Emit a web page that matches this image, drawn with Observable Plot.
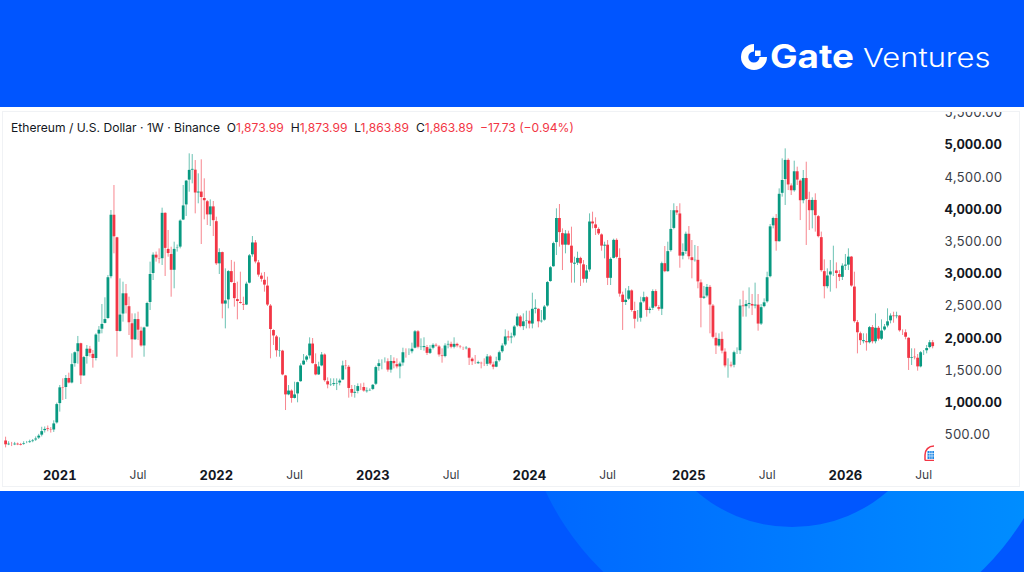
<!DOCTYPE html>
<html><head><meta charset="utf-8">
<script src="https://cdn.jsdelivr.net/npm/d3@7"></script>
<script src="https://cdn.jsdelivr.net/npm/@observablehq/plot@0.6"></script>
<style>
html,body{margin:0;padding:0;width:1024px;height:572px;overflow:hidden;background:#fff;font-family:Inter,"Noto Sans",sans-serif}
#header{position:absolute;left:0;top:0;width:1024px;height:107px;background:#0055ff}
#footer{position:absolute;left:0;top:491px;width:1024px;height:81px;overflow:hidden;background:#0057ff}
#big{position:absolute;left:520px;top:-387px;width:544px;height:544px;border-radius:50%;background:linear-gradient(90deg,#0066ff,#0090ff)}
#small{position:absolute;left:646px;top:-256px;width:292px;height:292px;border-radius:50%;background:#0057ff}
#panel{position:absolute;left:2px;top:111px;width:1018px;height:376px;border:1px solid #f0f2f5;box-sizing:border-box}
#chart{position:absolute;left:0;top:112px}
#legend{position:absolute;left:11px;top:120px;font-size:12.1px;line-height:16px;color:#131722;white-space:pre}
#legend b{font-weight:400;color:#f23645}
.logo{position:absolute;color:#fff;white-space:pre;transform-origin:left center}
#gate{left:770px;top:37px;font-size:32px;line-height:40px;font-weight:700;transform:scaleX(1.15)}
#ventures{left:863px;top:40px;font-size:26px;line-height:36px;font-weight:300;transform:scaleX(1.19)}
</style></head><body>
<div id="header"></div>
<svg style="position:absolute;left:740px;top:43px" width="28" height="28" viewBox="0 0 28 28">
<path d="M14 1A13 13 0 1 0 27 14H19.5A5.6 5.6 0 1 1 14 8.4Z" fill="#fff"/><path d="M15 7.5h5.6V13H15z" fill="#fff"/></svg>
<div class="logo" id="gate">Gate</div><div class="logo" id="ventures">Ventures</div>
<div id="footer"><div id="big"></div><div id="small"></div></div>
<div id="panel"></div>
<div id="chart"></div>
<div id="legend">Ethereum / U.S. Dollar · 1W · Binance  O<b>1,873.99</b>  H<b>1,873.99</b>  L<b>1,863.89</b>  C<b>1,863.89</b>  <b>−17.73 (−0.94%)</b></div>
<svg style="position:absolute;left:923px;top:445px" width="11" height="16" viewBox="0 0 11 16">
<path d="M11 1C5.5 1 2 5 2 10V15.500M2 15.500H11" fill="none" stroke="#f23645" stroke-width="1.5"/><rect x="4.500" y="6" width="6.500" height="8" fill="#1e88e5"/><path d="M4.500 8.500h6.500M4.500 11h6.500M6.800 6v8M9 6v8" stroke="#fff" stroke-width=".6"/></svg>
<script>
const firstWeek = "2020-08-31";
const firstOpen = 415;
const closes = [340,365,350,355,350,345,370,385,390,415,445,490,560,595,590,570,680,980,1240,1230,1385,1300,1600,1785,1925,1410,1710,1840,1760,1680,2060,2135,2225,2300,2950,3920,3570,2100,2370,2700,2500,2235,1970,2300,2120,1875,2170,2550,3000,3300,3240,3230,3950,3390,3310,3050,3390,3410,3830,4065,4450,4617,4620,4250,4280,4180,4130,3910,4050,3820,3150,3340,2525,2590,3045,2860,2610,2565,2535,2510,2850,3290,3490,3180,2975,2910,2820,2510,2130,2030,1800,1810,1425,1115,1190,1060,1130,1320,1580,1655,1720,1920,1600,1425,1565,1750,1335,1270,1290,1290,1300,1345,
1580,1560,1215,1140,1170,1260,1245,1175,1180,1200,1280,1555,1615,1630,1645,1500,1650,1600,1550,1610,1785,1770,1785,1840,2110,1855,1865,1865,1760,1840,1900,1875,1735,1710,1890,1915,1855,1915,1875,1855,1840,1848,1685,1630,1615,1615,1605,1590,1720,1595,1545,1645,1785,1890,2030,2000,2030,2185,2340,2175,2265,2275,2215,2460,2460,2250,2275,2495,2875,3105,3480,3870,3635,3440,3630,3440,3160,3160,3250,3150,2910,3055,3815,3770,3700,3615,3425,3455,2925,3235,3530,3250,2680,2550,2600,2745,2425,2290,2305,2560,2640,2425,2460,2735,2485,2445,
3168,3028,3355,3700,3990,3940,3270,3340,3625,3260,3200,3220,2870,2615,2650,2800,2510,2009,1875,1992,1795,1565,1580,1575,1785,1800,2510,2485,2535,2535,2495,2525,2215,2485,2560,2950,3740,3870,3494,4245,4460,4772,4375,4285,4595,4450,4130,4490,4150,3975,4150,3898,3572,3044,2795,2977,3040,3055,3000,2940,3130,3130,3270,2805,2252,2080,1957,1957,1925,2175,1940,2165,1980,2122,2185,2265,2355,2330,2355,2110,2095,2010,1682,1708,1700,1550,1785,1800,1850,1940,1864];
const highs = [466,395,385,385,375,370,395,400,420,430,470,510,620,625,640,615,720,995,1269,1372,1424,1460,1760,1790,2030,1925,1720,1890,1875,1812,2071,2184,2526,2630,2977,3986,4374,3570,2925,2873,2837,2640,2381,2381,2407,2174,2174,2562,3184,3329,3340,3390,4022,3950,3675,3416,3494,3450,3841,4374,4452,4866,4855,4762,4555,4773,4478,4141,4151,4126,3882,3391,3340,3080,3054,3210,3184,2873,3028,2640,2873,3303,3582,3520,3210,3013,3023,2951,2526,2133,2045,2009,1815,1425,1268,1201,1320,1320,1605,1750,1734,2009,1998,1760,1630,1781,1760,1387,1372,1372,1372,1367,
1646,1657,1579,1269,1269,1294,1294,1305,1232,1217,1284,1569,1667,1667,1698,1683,1734,1698,1683,1631,1848,1838,1838,1926,2122,2122,1993,2009,1890,1890,1916,1916,1890,1838,1916,1957,1941,2009,1926,1890,1864,1874,1853,1698,1734,1646,1631,1683,1750,1734,1631,1708,1802,1916,2133,2112,2081,2200,2381,2355,2381,2423,2423,2702,2599,2459,2433,2511,2883,3116,3494,4012,4079,3701,3675,3665,3727,3261,3339,3261,3209,3132,3934,3960,3872,3717,3623,3494,3520,3251,3541,3546,3391,2718,2770,2806,2754,2562,2433,2640,2718,2650,2485,2754,2754,2511,
3184,3427,3494,3986,4090,4048,4090,3468,3650,3737,3520,3443,3427,2909,2806,2837,2821,2526,2081,2071,2097,1838,1683,1631,1802,1853,2599,2733,2588,2785,2682,2858,2681,2526,2614,3028,3769,3882,3924,4322,4788,4943,4788,4400,4752,4659,4462,4607,4736,4270,4183,4245,3908,3650,3220,3080,3210,3432,3173,3054,3158,3303,3391,3272,3028,2278,2097,2071,2071,2185,2200,2381,2185,2288,2216,2459,2381,2407,2407,2355,2133,2133,2009,1838,1838,1750,1796,1812,1890,1968,1968];
const lows = [300,335,320,335,335,330,340,365,370,380,400,430,470,530,550,530,540,670,855,1036,1051,1294,1294,1553,1600,1284,1410,1600,1710,1538,1650,1940,2071,2225,2300,2925,3313,1708,2097,2252,2381,2045,1693,1967,1967,1864,1708,2174,2433,2899,3184,3158,3132,2961,3261,2640,2770,3340,3390,3830,3893,4270,4400,3934,4090,3458,3841,3753,3737,3582,3132,2992,2304,2148,2459,2858,2485,2288,2530,2433,2510,2847,3261,3158,2951,2873,2718,2495,1683,1890,1708,1708,1420,880,1110,994,1060,1000,1320,1580,1630,1680,1600,1420,1425,1560,1320,1217,1253,1253,1190,1263,
1345,1512,1072,1087,1072,1139,1190,1165,1150,1175,1190,1268,1491,1512,1615,1475,1460,1527,1527,1372,1568,1693,1734,1760,1838,1838,1812,1802,1734,1750,1822,1864,1709,1615,1698,1838,1838,1838,1853,1838,1812,1822,1579,1579,1595,1595,1527,1563,1563,1579,1512,1545,1631,1770,1874,1957,1916,2009,2174,2164,2122,2148,2148,2148,2381,2164,2237,2267,2485,2873,3106,3287,3417,3054,3313,3440,2858,2858,3132,2806,2858,2858,3028,3701,3598,3598,3354,3235,2821,2821,3235,3235,2640,2123,2511,2588,2407,2148,2252,2252,2547,2330,2381,2433,2475,2423,
2355,3020,3028,3339,3686,3908,3090,3220,3303,3220,2925,3184,2770,2164,2604,2630,2071,1993,1750,1864,1760,1543,1382,1543,1543,1750,1750,2330,2330,2459,2355,2459,2112,2200,2475,2547,2940,3701,3354,3494,4193,4064,4296,4219,4270,4374,3830,4090,3443,3675,3701,3650,3561,3028,2614,2770,2718,2961,2770,2883,2899,3054,3054,2795,2237,1760,1890,1915,1802,1915,1915,1915,1958,1968,2112,2164,2226,2236,2304,2097,2045,1978,1502,1579,1667,1491,1543,1734,1760,1838,1838];
const yearTicks = ["2021-01-04","2022-01-03","2023-01-02","2024-01-01","2025-01-06","2026-01-05"];
const monthTicks = ["2021-07-05","2022-07-04","2023-07-03","2024-07-01","2025-07-07","2026-07-06"];
const majorPrices = [5000,4000,3000,2000,1000];
const minorPrices = [5500,4500,3500,2500,1500,500];
const green = "#089981", red = "#f23645";

const start = new Date(firstWeek + "T00:00:00Z");
const candles = closes.map((c, i) => ({
  date: d3.utcWeek.offset(start, i),
  o: i ? closes[i - 1] : firstOpen, c, h: highs[i], l: lows[i]
}));
const fmt = d3.format(",.2f");
const toDate = s => new Date(s + "T00:00:00Z");
const up = candles.filter(d => d.c >= d.o), down = candles.filter(d => d.c < d.o);
const wick = (rows, color) => Plot.ruleX(rows, {x: "date", y1: "l", y2: "h", stroke: color, strokeWidth: 1, strokeOpacity: 0.6});
const body = (rows, color) => Plot.ruleX(rows, {x: "date", y1: d => Math.min(d.o, d.c), y2: d => Math.max(d.o, d.c), stroke: color, strokeWidth: 2.8, insetTop: -0.5, insetBottom: -0.5});

const chart = Plot.plot({
  width: 1024, height: 375,
  marginLeft: 0, marginRight: 84, marginTop: 0, marginBottom: 25,
  style: {background: "transparent", fontFamily: "Inter, sans-serif"},
  x: {type: "utc", domain: [candles[0].date, candles[candles.length - 1].date], range: [5.1, 5.1 + 3.01 * (candles.length - 1)]},
  y: {domain: [0, 5000], range: [354.7, 32.7]},
  marks: [
    wick(up, green), wick(down, red), body(up, green), body(down, red),
    Plot.axisY({anchor: "right", ticks: majorPrices, tickSize: 0, tickPadding: 4, tickFormat: fmt, label: null, textAnchor: "start", fontSize: 13, fontWeight: 700, letterSpacing: 0.5, fill: "#131722"}),
    Plot.axisY({anchor: "right", ticks: minorPrices, tickSize: 0, tickPadding: 4, tickFormat: fmt, label: null, textAnchor: "start", fontSize: 13, fontWeight: 400, letterSpacing: 0.5, fill: "#3a3d46"}),
    Plot.axisX({anchor: "bottom", ticks: yearTicks.map(toDate), tickSize: 0, tickPadding: 8, tickFormat: d3.utcFormat("%Y"), label: null, fontSize: 13, fontWeight: 700, letterSpacing: 0.4, fill: "#131722"}),
    Plot.axisX({anchor: "bottom", ticks: monthTicks.map(toDate), tickSize: 0, tickPadding: 8, tickFormat: d3.utcFormat("%b"), label: null, fontSize: 12, fontWeight: 400, fill: "#3a3d46"})
  ]
});
document.getElementById("chart").append(chart);
</script>
</body></html>
